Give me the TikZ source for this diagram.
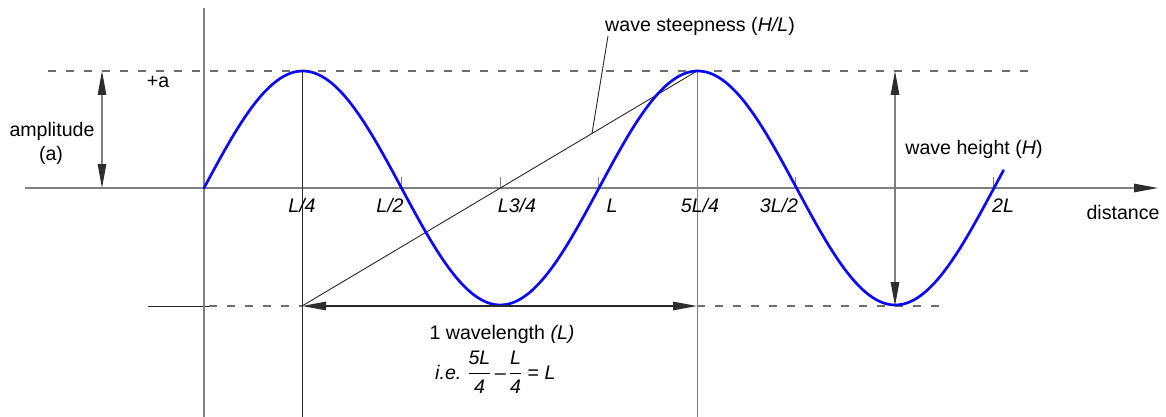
\documentclass[tikz,border=0pt]{standalone}
\usepackage{fontspec}
\setmainfont{Liberation Sans}
\usepackage{amsmath}
\usetikzlibrary{arrows.meta}
\definecolor{axisgray}{RGB}{128,128,128}
\definecolor{dashgray}{RGB}{110,110,110}
\definecolor{darkline}{RGB}{40,40,40}
\definecolor{tipc}{RGB}{45,45,45}
\definecolor{wave}{RGB}{10,10,245}
\begin{document}
\begin{tikzpicture}[x=1pt,y=-1pt,
  lbl/.style={font=\fontsize{19.6pt}{23pt}\selectfont, inner sep=0pt, text=black},
  ticklbl/.style={lbl, font=\fontsize{19.6pt}{23pt}\selectfont\itshape},
  axisln/.style={draw=axisgray, line width=1.3pt},
  thinln/.style={draw=darkline, line width=0.9pt},
  guide/.style={draw=dashgray, line width=1.1pt, dash pattern=on 8pt off 10pt},
  tipend/.style={-{Triangle[length=24pt,width=8.5pt,color=tipc]}},
  tipboth/.style={{Triangle[length=24pt,width=8.5pt,color=tipc]}-{Triangle[length=24pt,width=8.5pt,color=tipc]}},
  ticks/.style={draw=axisgray, line width=1pt}
]
\useasboundingbox (0,0) rectangle (1166,417);
% coordinates
\coordinate (axL) at (25,188);
\coordinate (axR) at (1158,188);
\coordinate (vT) at (204,8);
\coordinate (vB) at (204,417);
\coordinate (P1) at (302,71);
\coordinate (P1b) at (302,417);
\coordinate (P2) at (697,71);
\coordinate (P2b) at (697,417);
\coordinate (T1) at (302,306);
\coordinate (T2) at (697,306);
\coordinate (dTL) at (48,71);
\coordinate (dTR) at (1033,71);
\coordinate (dBL) at (148,306);
\coordinate (dBm) at (209,306);
\coordinate (dBR) at (947,306);
\coordinate (A1) at (102,188);
\coordinate (A2) at (102,71);
\coordinate (H1) at (895,71);
\coordinate (H2) at (895,306);
\coordinate (lead1) at (608,36);
\coordinate (lead2) at (592,133.5);

% guide lines
\draw[guide] (dTL) -- (dTR);
\draw[guide] (dBm) -- (T1);
\draw[guide] (T2) -- (dBR);
\draw[thinln] (dBL) -- (dBm);

% axes
\draw[axisln] (vT) -- (vB);
\draw[axisln, tipend] (axL) -- (axR);
\foreach \tx in {401,500,598,795,993}
  \draw[ticks] (\tx,177) -- (\tx,188);

% verticals
\draw[thinln] (P1) -- (P1b);
\draw[axisgray, line width=1pt] (P2) -- (P2b);

% steepness diagonal and leader
\draw[thinln] (T1) -- (P2);
\draw[thinln] (lead1) -- (lead2);

% wave
\draw[wave, line width=2.7pt, line cap=round, domain=0:2.026, samples=240, smooth]
  plot ({204+395*\x},{188-117*sin(360*\x)});

% arrows
\draw[axisgray, line width=1.2pt, tipboth] (A1) -- (A2);
\draw[axisgray, line width=1.2pt, tipboth] (H1) -- (H2);
\draw[darkline, line width=1.2pt, tipboth] (T1) -- (T2);

% labels
\node[lbl, anchor=base] (plusa) at (158,88) {+a};
\node[lbl, anchor=base] (amp) at (52,136) {amplitude};
\node[lbl, anchor=base] (ampa) at (51,160) {(a)};
\node[lbl, anchor=base] (steep) at (700,32) {wave steepness (\textit{H/L})};
\node[lbl, anchor=base] (wh) at (974,154) {wave height (\textit{H})};
\node[lbl, anchor=base] (dist) at (1123,219) {distance};
\node[ticklbl, anchor=base] (l1) at (302,212) {L/4};
\node[ticklbl, anchor=base] (l2) at (390,212) {L/2};
\node[ticklbl, anchor=base] (l3) at (517,212) {L3/4};
\node[ticklbl, anchor=base] (l4) at (612,212) {L};
\node[ticklbl, anchor=base] (l5) at (700,212) {5L/4};
\node[ticklbl, anchor=base] (l6) at (779,212) {3L/2};
\node[ticklbl, anchor=base] (l7) at (1003,212) {2L};
\node[lbl, anchor=base] (wl) at (502,339) {1 wavelength \textit{(L)}};
\node[lbl, anchor=base west] (ie) at (435,379)
  {\textit{i.e.}\hspace{6pt}$\dfrac{\text{\itshape 5L}}{\text{\itshape 4}}\text{\,–\,}\dfrac{\text{\itshape L}}{\text{\itshape 4}}\text{ = \itshape L}$};
\end{tikzpicture}
\end{document}
